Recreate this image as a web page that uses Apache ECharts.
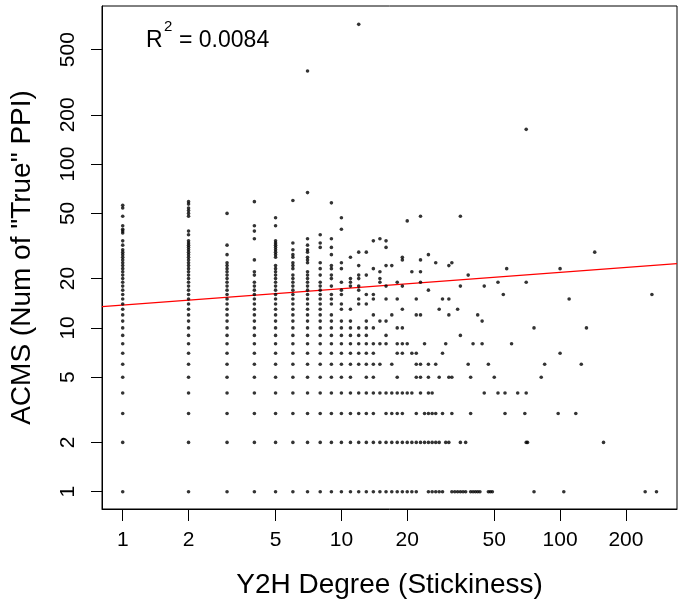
<!DOCTYPE html>
<html><head><meta charset="utf-8">
<script src="https://cdn.jsdelivr.net/npm/echarts@6/dist/echarts.min.js"></script>
<style>html,body{margin:0;padding:0;background:#fff}#c{width:685px;height:606px}</style>
</head><body><div id="c"></div>
<script>
// Tick values
const xTicks = [1, 2, 5, 10, 20, 50, 100, 200];
const yTicks = [1, 2, 5, 10, 20, 50, 100, 200, 500];

// Y2H degree (x) and the ACMS values observed at that degree (y)
const degrees = [1, 2, 3, 4, 5, 6, 7, 8, 9, 10, 11, 12, 13, 14, 15, 16, 17, 18, 19, 20,
  21, 22, 23, 24, 25, 26, 27, 28, 29, 30, 31, 32, 33, 34, 35, 36, 37, 38, 39, 40,
  41, 42, 43, 44, 45, 47, 48, 49, 50, 52, 55, 56, 57, 60, 64, 69, 70, 71, 76, 82,
  85, 98, 100, 104, 110, 118, 125, 132, 144, 158, 245, 263, 276];
const acmsByDegree = [
  [1,2,3,4,5,6,7,8,9,10,11,12,13,14,15,16,17,18,19,20,21,22,23,24,25,26,27,28,29,30,32,34,38,39,40,42,48,54,56],
  [1,2,3,4,5,6,7,8,9,10,11,12,13,14,15,16,17,18,19,20,21,22,23,24,25,26,27,28,29,30,31,32,33,34,37,39,48,50,52,54,57,59],
  [1,2,3,4,5,6,7,8,9,10,11,12,13,14,15,16,17,18,19,20,21,22,23,24,25,28,32,50],
  [1,2,3,4,5,6,7,8,9,10,11,12,13,14,15,16,17,18,19,21,22,26,35,39,42,59],
  [1,2,3,4,5,6,7,8,9,10,11,12,13,14,15,16,17,18,19,20,21,22,23,24,27,28,29,30,31,32,33,34,42,47],
  [1,2,3,4,5,6,7,8,9,10,11,12,13,14,15,16,17,18,19,20,21,23,24,25,27,28,30,33,60],
  [1,2,3,4,5,6,7,8,9,10,11,12,13,14,15,16,17,18,19,20,21,22,25,26,27,29,30,32,35,67,370],
  [1,2,3,4,5,6,7,8,9,10,11,12,13,14,15,16,17,18,19,21,23,25,31,33,37],
  [1,2,3,4,5,6,7,8,9,10,11,12,14,15,16,18,20,21,23,24,28,31,35,58],
  [1,2,3,4,5,6,7,8,9,10,11,13,14,16,17,19,23,25,40,47],
  [1,2,3,4,5,6,7,8,9,10,11,13,18,19,20,27],
  [1,2,3,4,6,7,8,9,10,14,15,17,18,20,21,24,29,713],
  [1,2,3,4,5,6,7,8,9,10,11,14,16,21,29],
  [1,2,3,4,5,6,7,8,10,12,15,16,23,34],
  [1,2,4,6,8,11,19,20,22,35],
  [1,2,3,4,8,9,11,15,18,24,31,34],
  [1,2,3,4,6,12,24],
  [1,2,3,4,5,7,8,10,15,19],
  [1,2,3,4,7,8,10,13,18,26,27],
  [1,2,4,8,45],
  [1,2,4,7,22],
  [1,2,3,5,6,7,12,15],
  [2,4,5,6,12,19,22,26,48],
  [2,3,8],
  [1,2,3,4,5,6,17,28],
  [1,2,3,4],
  [1,2,3,6,25],
  [1,2,5,13],
  [1,3,7,15],
  [2,8],
  [2,5,12,15,24],
  [1,3,5,25],
  [1],
  [1,13],
  [1,2,9,18,48],
  [1],
  [1,2],
  [6,21],
  [1,3,5],
  [1,8],
  [1],
  [1,12],
  [1],
  [8,11],
  [4,18],
  [1,6],
  [1],
  [1],
  [5],
  [4,19],
  [16],
  [3,4],
  [23],
  [8],
  [4],
  [3],
  [2,4,19,163],
  [2],
  [1,10],
  [5],
  [6],
  [3],
  [7,23],
  [1],
  [15],
  [3],
  [6],
  [10],
  [29],
  [2],
  [1],
  [16],
  [1]
];

// Fitted regression line (log-log), endpoints
const fitX = [0.804, 342.5];
const fitY = [13.48, 24.7];
const r2Text = '0.0084';

const points = [];
degrees.forEach((d, i) => acmsByDegree[i].forEach(v => points.push([d, v])));

const FONT = '"Liberation Sans", Arial, Helvetica, sans-serif';
const chart = echarts.init(document.getElementById('c'), null, {renderer: 'canvas'});
chart.setOption({
  animation: false,
  backgroundColor: '#fff',
  grid: {left: 102, right: 8, top: 6, bottom: 97, show: true, borderColor: '#000', borderWidth: 1, backgroundColor: 'transparent'},
  xAxis: {
    type: 'log', logBase: 10, min: 0.804, max: 342.5,
    name: 'Y2H Degree (Stickiness)', nameLocation: 'middle', nameGap: 62,
    nameTextStyle: {fontSize: 28, color: '#000', fontFamily: FONT},
    axisLine: {show: true, onZero: false, lineStyle: {color: '#000', width: 1}},
    axisTick: {show: true, inside: false, length: 12, lineStyle: {color: '#000'}, customValues: xTicks},
    minorTick: {show: false},
    axisLabel: {show: true, customValues: xTicks, fontSize: 21, color: '#000', fontFamily: FONT, margin: 21, formatter: v => String(+v.toPrecision(6))},
    splitLine: {show: false}
  },
  yAxis: {
    type: 'log', logBase: 10, min: 0.784, max: 923,
    name: 'ACMS (Num of "True" PPI)', nameLocation: 'middle', nameGap: 66,
    nameTextStyle: {fontSize: 28, color: '#000', fontFamily: FONT},
    axisLine: {show: true, onZero: false, lineStyle: {color: '#000', width: 1}},
    axisTick: {show: true, inside: false, length: 11, lineStyle: {color: '#000'}, customValues: yTicks},
    minorTick: {show: false},
    axisLabel: {show: true, customValues: yTicks, rotate: 90, fontSize: 21, color: '#000', fontFamily: FONT, margin: 23, formatter: v => String(+v.toPrecision(6))},
    splitLine: {show: false}
  },
  graphic: [
    {type: 'text', x: 146, y: 29, style: {text: 'R', font: '23px ' + FONT, fill: '#000', verticalAlign: 'top'}},
    {type: 'text', x: 164, y: 19, style: {text: '2', font: '15px ' + FONT, fill: '#000', verticalAlign: 'top'}},
    {type: 'text', x: 179, y: 29, style: {text: '= ' + r2Text, font: '23px ' + FONT, fill: '#000', verticalAlign: 'top'}}
  ],
  series: [
    {type: 'scatter', data: points, symbol: 'circle', symbolSize: 3.6, itemStyle: {color: '#000'}, silent: true, z: 3},
    {type: 'line', data: fitX.map((x, i) => [x, fitY[i]]), symbol: 'none', lineStyle: {color: '#ff0000', width: 1.3}, silent: true, z: 2}
  ]
});
</script>
</body></html>
